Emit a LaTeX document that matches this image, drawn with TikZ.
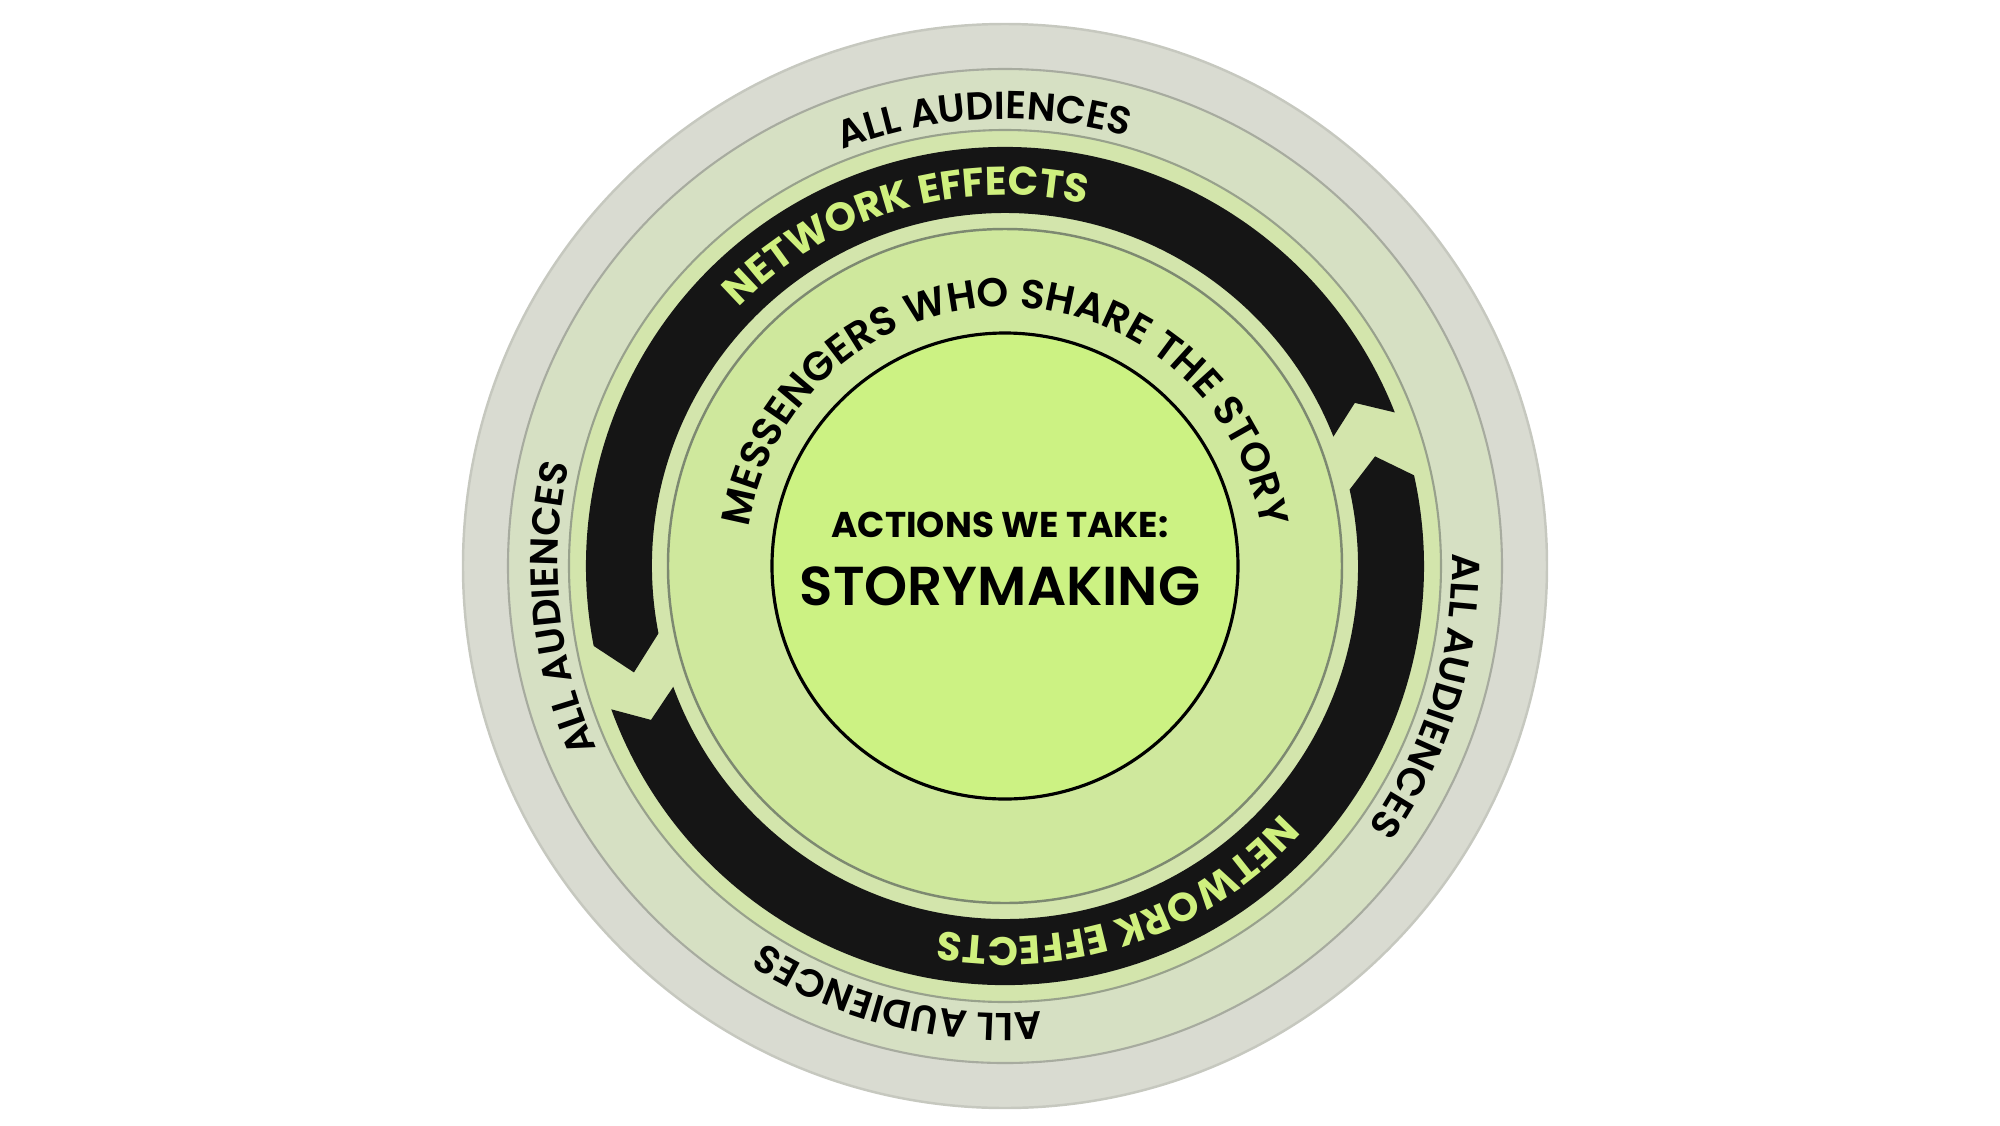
\documentclass[tikz,border=0pt]{standalone}
\usepackage{fontspec}
\setmainfont{Poppins}
\IfFontExistsTF{Poppins Medium}{\newfontfamily\popmed{Poppins Medium}}{\newfontfamily\popmed{Poppins}}
\IfFontExistsTF{Poppins SemiBold}{\newfontfamily\popsemi{Poppins SemiBold}}{\newfontfamily\popsemi{Poppins}[FakeBold=1.5]}
\IfFontExistsTF{Poppins Bold}{\newfontfamily\popbold{Poppins Bold}}{\newfontfamily\popbold{Poppins}[FakeBold=2.5]}
\usetikzlibrary{decorations.text}

\definecolor{rimfill}{HTML}{D9DBD1}
\definecolor{rimedge}{HTML}{C6C8BF}
\definecolor{audfill}{HTML}{D6E0C3}
\definecolor{audedge}{HTML}{A7AB9F}
\definecolor{netfill}{HTML}{D3E5AC}
\definecolor{netedge}{HTML}{98A18C}
\definecolor{msgfill}{HTML}{CFE89D}
\definecolor{msgedge}{HTML}{7D8971}
\definecolor{corefill}{HTML}{CCF283}
\definecolor{bandblack}{HTML}{151515}
\definecolor{bandtext}{HTML}{CFF07E}

\begin{document}
\begin{tikzpicture}
\tikzstyle{every node}+=[inner sep=0pt]
\useasboundingbox (-10.05,-5.59) rectangle (9.95,5.66);
% rings
\draw [rimedge, fill=rimfill, line width=0.7pt] (0,0) circle (5.42);
\draw [audedge, fill=audfill, line width=0.6pt] (0,0) circle (4.97);
\draw [netedge, fill=netfill, line width=0.6pt] (0,0) circle (4.36);
% network arrows
\fill [bandblack] (21.5:4.19) arc [start angle=21.5, end angle=191, radius=4.19] -- (196:3.86) -- (191:3.53) arc [start angle=191, end angle=21.5, radius=3.53] -- (25:3.86) -- cycle;
\fill [bandblack] (200:4.19) arc [start angle=200, end angle=372.5, radius=4.19] -- (376.5:3.86) -- (372.5:3.53) arc [start angle=372.5, end angle=200, radius=3.53] -- (203.5:3.86) -- cycle;
\draw [msgedge, fill=msgfill, line width=0.7pt] (0,0) circle (3.37);
\draw [black, fill=corefill, line width=0.9pt] (0,0) circle (2.33);
% ring texts
\path [decorate, decoration={text along path, text align=center, text={|\popsemi\fontsize{11.1}{13}\selectfont|ALL AUDIENCES}}] (132.7:4.47) arc [start angle=132.7, end angle=52.7, radius=4.47];
\path [decorate, decoration={text along path, text align=center, text={|\popsemi\fontsize{11.1}{13}\selectfont|ALL AUDIENCES}}] (23:4.47) arc [start angle=23, end angle=-57, radius=4.47];
\path [decorate, decoration={text along path, text align=center, text={|\popsemi\fontsize{11.1}{13}\selectfont|ALL AUDIENCES}}] (-64:4.47) arc [start angle=-64, end angle=-144, radius=4.47];
\path [decorate, decoration={text along path, text align=center, text={|\popsemi\fontsize{11.1}{13}\selectfont|ALL AUDIENCES}}] (225.5:4.47) arc [start angle=225.5, end angle=145.5, radius=4.47];
\path [decorate, decoration={text along path, text align=center, text color=bandtext, text={|\popbold\fontsize{11.4}{13}\selectfont|NETWORK EFFECTS}}] (156.6:3.71) arc [start angle=156.6, end angle=56.6, radius=3.71];
\path [decorate, decoration={text along path, text align=center, text color=bandtext, text={|\popbold\fontsize{11.4}{13}\selectfont|NETWORK EFFECTS}}] (-21:3.71) arc [start angle=-21, end angle=-121, radius=3.71];
\path [decorate, decoration={text along path, text align=center, text={|\popsemi\fontsize{11.5}{14}\selectfont|MESSENGERS WHO SHARE THE STORY}}] (185:2.59) arc [start angle=185, end angle=-5, radius=2.59];
% centre
\node (actions) [anchor=base, font=\popbold\fontsize{10.2}{12}\selectfont] at (-0.05,0.29) {ACTIONS WE TAKE:};
\node (storymaking) [anchor=base, font=\popsemi\fontsize{15.6}{18}\selectfont] at (-0.05,-0.39) {STORYMAKING};
\end{tikzpicture}
\end{document}
